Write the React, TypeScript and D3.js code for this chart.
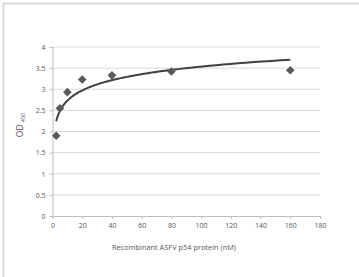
import React, { useEffect, useRef } from "react"
import * as d3 from "d3"

// measured concentrations (nM) and OD450 readings
const concentrations = [2.5, 5, 10, 20, 40, 80, 160]
const odValues = [1.9, 2.55, 2.93, 3.23, 3.33, 3.42, 3.45]
const xTicks = [0, 20, 40, 60, 80, 100, 120, 140, 160, 180]
const yTicks = [0, 0.5, 1, 1.5, 2, 2.5, 3, 3.5, 4]

const App = () => {
  const ref = useRef<SVGSVGElement>(null)

  useEffect(() => {
    const svg = d3.select(ref.current)
    svg.selectAll("*").remove()

    const W = 359
    const H = 277
    const margin = { top: 47, right: 39, bottom: 61, left: 52.5 }
    const width = W - margin.left - margin.right
    const height = H - margin.top - margin.bottom
    const font = "'Open Sans', sans-serif"
    const textColor = "#555"

    // frame around the figure (top + left only visible)
    svg.append("rect").attr("x", 3.5).attr("y", 3.5).attr("width", W).attr("height", H)
      .attr("fill", "none").attr("stroke", "#d9d9d9").attr("stroke-width", 2)

    const x = d3.scaleLinear().domain([0, 180]).range([0, width])
    const y = d3.scaleLinear().domain([0, 4]).range([height, 0])

    const g = svg.append("g").attr("transform", `translate(${margin.left},${margin.top})`)

    // gridlines
    g.selectAll(".grid").data(yTicks.slice(1)).join("line")
      .attr("x1", 0).attr("x2", width)
      .attr("y1", (d) => y(d)).attr("y2", (d) => y(d))
      .attr("stroke", "#d9d9d9").attr("stroke-width", 1)

    const xAxis = g.append("g").attr("transform", `translate(0,${height})`)
      .call(d3.axisBottom(x).tickValues(xTicks).tickSize(3).tickPadding(4))
    const yAxis = g.append("g")
      .call(d3.axisLeft(y).tickValues(yTicks).tickSize(3).tickPadding(4).tickFormat((d) => String(d)))

    for (const ax of [xAxis, yAxis]) {
      ax.select(".domain").attr("stroke", "#bfbfbf")
      ax.selectAll(".tick line").attr("stroke", "#bfbfbf")
      ax.selectAll("text").attr("fill", textColor).style("font-family", font).style("font-size", "7px")
    }

    // logarithmic trendline (least squares on ln x), like the spreadsheet trendline
    const lx = concentrations.map(Math.log)
    const mx = d3.mean(lx) as number
    const my = d3.mean(odValues) as number
    const slope = d3.sum(lx, (v, i) => (v - mx) * (odValues[i] - my)) / d3.sum(lx, (v) => (v - mx) ** 2)
    const intercept = my - slope * mx
    const x0 = concentrations[0]
    const x1 = concentrations[concentrations.length - 1]
    const curve = d3.range(0, 101).map((i) => {
      const c = x0 * Math.pow(x1 / x0, i / 100)
      return [c, slope * Math.log(c) + intercept] as [number, number]
    })

    g.append("path")
      .attr("d", d3.line().x((d) => x(d[0])).y((d) => y(d[1]))(curve))
      .attr("fill", "none").attr("stroke", "#404040").attr("stroke-width", 2)

    g.selectAll(".pt").data(concentrations).join("path")
      .attr("d", d3.symbol(d3.symbolDiamond2, 48)())
      .attr("transform", (d, i) => `translate(${x(d)},${y(odValues[i])})`)
      .attr("fill", "#595959")

    // axis titles
    svg.append("text").attr("x", 174).attr("y", 250).attr("text-anchor", "middle")
      .attr("fill", textColor).style("font-family", font).style("font-size", "7.4px")
      .text("Recombinant ASFV p54 protein (nM)")

    const yt = svg.append("text").attr("transform", "translate(23,125) rotate(-90)")
      .attr("text-anchor", "middle").attr("fill", textColor)
      .style("font-family", font).style("font-size", "8.5px")
    yt.append("tspan").text("OD ")
    yt.append("tspan").attr("font-size", "5.5px").attr("dy", 1.5).text("450")
  }, [])

  return (
    <div style={{ position: "absolute", left: 0, top: 0 }}>
      <svg ref={ref} width={359} height={277} style={{ display: "block", background: "#fff" }} />
    </div>
  )
}

export default App
